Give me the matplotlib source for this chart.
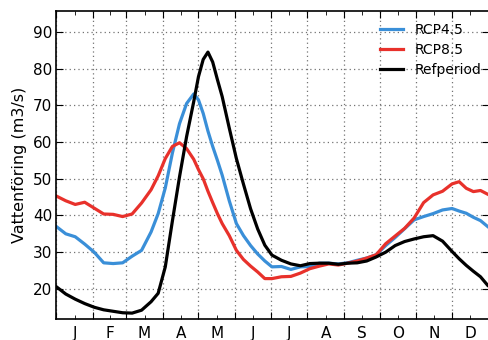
import matplotlib
matplotlib.use('Agg')
from matplotlib import pyplot as plt
from matplotlib.ticker import FixedLocator, NullFormatter, FixedFormatter

days = [0, 8, 16, 24, 32, 40, 48, 56, 64, 72, 80, 86, 92, 98, 104, 110,
        116, 120, 124, 128, 132, 136, 140, 146, 152, 158, 164, 170, 176,
        182, 190, 198, 206, 214, 222, 230, 238, 246, 254, 262, 270, 278,
        286, 294, 302, 310, 318, 326, 334, 340, 346, 352, 358, 364]

rcp45 = [37.0, 35.0, 34.2, 32.2, 30.0, 27.1, 26.9, 27.1, 28.9, 30.5, 35.5,
         40.5, 47.5, 57.0, 65.0, 70.5, 73.1, 71.5, 67.8, 63.0, 58.8, 55.0,
         51.0, 44.0, 37.8, 34.5, 31.8, 29.5, 27.6, 26.0, 26.1, 25.3, 26.0,
         26.1, 27.0, 27.0, 26.8, 27.1, 27.8, 28.4, 29.3, 31.8, 34.0, 36.4,
         38.8, 39.7, 40.5, 41.5, 41.9, 41.2, 40.6, 39.5, 38.6, 37.0]

rcp85 = [45.3, 44.0, 43.0, 43.6, 42.0, 40.4, 40.3, 39.7, 40.4, 43.4, 47.0,
         50.8, 55.5, 58.8, 59.8, 58.2, 55.3, 52.5, 50.0, 46.6, 43.5, 40.5,
         37.8, 34.5, 30.5, 28.0, 26.2, 24.6, 22.8, 22.8, 23.3, 23.4, 24.3,
         25.5, 26.2, 26.8, 26.5, 27.0, 27.6, 28.4, 29.3, 32.3, 34.4, 36.5,
         39.3, 43.5, 45.6, 46.6, 48.6, 49.2, 47.4, 46.5, 46.8, 45.8]

refperiod = [20.6, 18.6, 17.2, 16.0, 15.0, 14.3, 13.9, 13.5, 13.4, 14.2,
             16.5, 18.8, 26.0, 38.5, 50.5, 61.5, 71.0, 77.8, 82.5, 84.5,
             81.8, 77.0, 72.4, 63.8, 55.5, 48.5, 41.8, 36.3, 31.9, 29.2,
             27.8, 26.8, 26.3, 26.9, 27.0, 27.0, 26.7, 27.0, 27.1, 27.6,
             28.7, 30.0, 31.8, 32.9, 33.6, 34.2, 34.5, 33.0, 30.2, 28.2,
             26.4, 24.8, 23.3, 21.0]

month_edges = [0, 31, 59, 90, 120, 151, 181, 212, 243, 273, 304, 334, 365]
month_labels = ['J', 'F', 'M', 'A', 'M', 'J', 'J', 'A', 'S', 'O', 'N', 'D']
month_mids = [(a + b) / 2.0 for a, b in zip(month_edges[:-1], month_edges[1:])]

fig = plt.figure(figsize=(4.88, 3.40), dpi=100)
ax = fig.add_axes([0.1153, 0.0618, 0.8863, 0.9059])

lw = 2.3
ax.plot(days, rcp45, color='#3a8fd8', lw=lw, label='RCP4.5')
ax.plot(days, rcp85, color='#e8312b', lw=lw, label='RCP8.5')
ax.plot(days, refperiod, color='black', lw=lw, label='Refperiod')

ax.set_xlim(0, 365)
ax.set_ylim(11.8, 95.7)
ax.set_yticks([20, 30, 40, 50, 60, 70, 80, 90])

ax.xaxis.set_major_locator(FixedLocator(month_edges))
ax.xaxis.set_major_formatter(NullFormatter())
ax.xaxis.set_minor_locator(FixedLocator(month_mids))
ax.xaxis.set_minor_formatter(FixedFormatter(month_labels))

ax.tick_params(which='both', direction='in', top=True, right=True,
               labelsize=11)
ax.tick_params(which='major', length=5)
ax.tick_params(which='minor', length=3, pad=5)
ax.tick_params(axis='y', pad=3)

ax.grid(True, which='major', color='0.45', linestyle=(0, (1, 2.5)),
        linewidth=0.9)

for s in ax.spines.values():
    s.set_linewidth(1.2)

ax.set_ylabel('Vattenföring (m3/s)', fontsize=11.5, labelpad=4)

ax.legend(loc='upper left', bbox_to_anchor=(380 / 488.0, 1 - 23 / 340.0),
          bbox_transform=fig.transFigure, frameon=False, fontsize=10,
          handlelength=1.65, handletextpad=0.85, labelspacing=0.42,
          borderpad=0, borderaxespad=0)

fig.savefig('out.png', dpi=100)
